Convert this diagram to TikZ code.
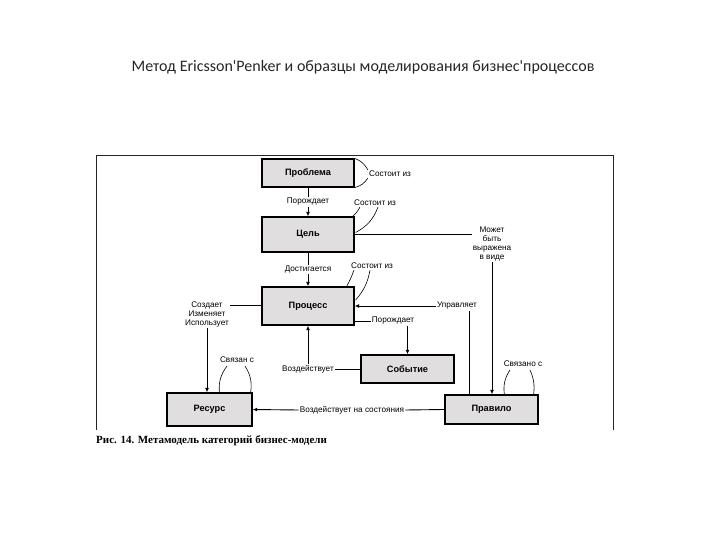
\documentclass[tikz,border=0pt]{standalone}
\usepackage{fontspec}
\setmainfont{Liberation Sans}
\newfontfamily\titlefont{Carlito}
\newfontfamily\capfont{Liberation Serif}
\usetikzlibrary{arrows.meta,calc}
\definecolor{boxfill}{RGB}{224,222,222}
\tikzset{
  box/.style={draw=black,line width=1.3pt,fill=boxfill,inner sep=0pt,font=\fontsize{9.2}{10}\selectfont\bfseries},
  lbl/.style={inner sep=1pt,font=\fontsize{8.2}{9}\selectfont,align=center},
  conn/.style={line width=0.9pt,draw=black},
  arr/.style={conn,-{Latex[length=4.5pt,width=4pt]}},
  lp/.style={line width=0.6pt,draw=black}
}
\begin{document}
\begin{tikzpicture}[x=1pt,y=1pt]
\useasboundingbox (0,0) rectangle (720,-540);
% title
\node[font=\titlefont\fontsize{16}{18}\selectfont,text=black!85] (title) at (363,-67) {Метод Ericsson'Penker и образцы моделирования бизнес'процессов};
% frame
\draw[line width=0.9pt,black!85] (96,-430) -- (96,-155) -- (613,-155) -- (613,-430);
% caption
\node[anchor=west,font=\capfont\bfseries\fontsize{11}{12}\selectfont,inner sep=0pt] (cap) at (96,-441) {Рис. 14. Метамодель категорий бизнес-модели};
% boxes
\node[box,minimum width=92pt,minimum height=28pt] (prob) at (308,-173) {Проблема};
\node[box,minimum width=92pt,minimum height=35pt] (goal) at (308,-234.5) {Цель};
\node[box,minimum width=92pt,minimum height=38pt] (proc) at (308,-306) {Процесс};
\node[box,minimum width=93pt,minimum height=28pt] (event) at (407.5,-369) {Событие};
\node[box,minimum width=85pt,minimum height=33pt] (res) at (209.5,-409.5) {Ресурс};
\node[box,minimum width=93pt,minimum height=29pt] (rule) at (491.5,-409.5) {Правило};
% labels
\node[lbl] (lSost1) at (390,-174) {Состоит из};
\node[lbl] (lSost2) at (375,-203) {Состоит из};
\node[lbl] (lSost3) at (372,-266) {Состоит из};
\node[lbl,font=\fontsize{8.2}{9}\selectfont] (lMay) at (492,-244) {Может\\быть\\выражена\\в виде};
\node[lbl] (lUpr) at (457,-306) {Управляет};
\node[lbl] (lPor2) at (393,-321) {Порождает};
\node[lbl,font=\fontsize{8.2}{9}\selectfont] (lCreate) at (207,-314) {Создает\\Изменяет\\Использует};
\node[lbl] (lSvyazan) at (237,-360) {Связан с};
\node[lbl] (lVozd) at (308,-369) {Воздействует};
\node[lbl] (lVozdS) at (352,-410) {Воздействует на состояния};
\node[lbl] (lSvyazano) at (523,-364) {Связано с};
% vertical chain
\draw[arr] (prob) -- node[lbl,fill=white] (lPor1) {Порождает} (goal);
\draw[arr] (goal) -- node[lbl,fill=white] (lDost) {Достигается} (proc);
% goal -> may -> rule
\draw[conn] (goal.east) -- (goal.east -| lMay.west);
\draw[arr] (lMay.south) -- (lMay.south |- rule.north);
% upravlyaet
\draw[arr] (lUpr.west) -- (lUpr.west -| proc.east);
\coordinate (uprT) at ($(lUpr.south)+(12,0)$);
\draw[conn] (uprT) -- (uprT |- rule.north);
% porozhdaet 2
\draw[conn] (proc.east |- lPor2) -- (lPor2.west);
\draw[arr] (lPor2.south -| event.north) -- (event.north);
% create
\draw[conn] (proc.west |- 0,-305) -- (lCreate.east |- 0,-305);
\draw[arr] (lCreate.south) -- (lCreate.south |- res.north);
% vozdeistvuet
\draw[arr] (lVozd.north) -- (proc.south);
\draw[conn] (lVozd.east) -- (event.west);
% vozdeistvuet na sostoyaniya
\draw[conn] (rule.west) -- (lVozdS.east);
\draw[arr] (lVozdS.west) -- (res.east);
% self loops
\draw[lp] (prob.north east) to[bend left=20] ($(lSost1.west)+(0,4)$);
\draw[lp] (prob.south east) to[bend right=20] ($(lSost1.west)+(0,-4)$);
\draw[lp] ($(lSost2.south west)+(7,0)$) to[bend left=10] ($(goal.north east)+(-2,0)$);
\draw[lp] ($(lSost2.south)+(3,0)$) to[bend left=20] ($(goal.east)+(1,2)$);
\draw[lp] ($(lSost3.south west)+(4,0)$) to[bend left=5] ($(proc.north east)+(-8,0)$);
\draw[lp] ($(lSost3.south)+(-2,0)$) to[bend left=15] ($(proc.east)+(1,6)$);
\draw[lp] ($(res.north west)+(53,0)$) to[bend left=20] ($(lSvyazan)+(-10,-6)$);
\draw[lp] ($(res.north east)+(-2,0)$) to[bend right=20] ($(lSvyazan)+(8,-6)$);
\draw[lp] ($(rule.north west)+(60,0)$) to[bend left=20] ($(lSvyazano)+(-13,-6)$);
\draw[lp] ($(rule.north east)+(-5,0)$) to[bend right=15] ($(lSvyazano)+(7,-6)$);
\end{tikzpicture}
\end{document}
